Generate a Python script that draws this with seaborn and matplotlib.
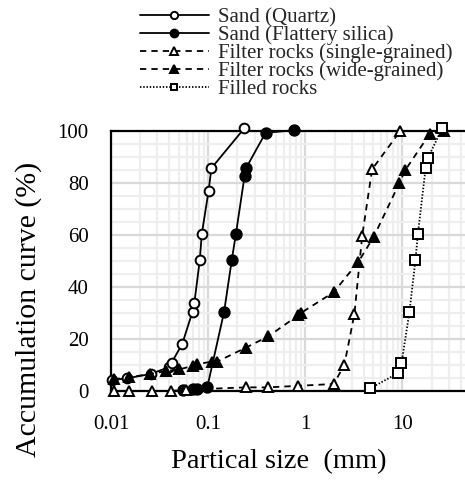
import matplotlib
matplotlib.use("Agg")
import matplotlib.pyplot as plt
import matplotlib.ticker as mticker
import seaborn as sns
import numpy as np

# Particle size (mm) and cumulative passing (%) for each material
quartz_x = [0.0103, 0.0147, 0.026, 0.040, 0.042, 0.054, 0.069, 0.072, 0.082, 0.086, 0.101, 0.108, 0.235]
quartz_y = [4.2, 4.9, 6.6, 9.3, 10.9, 18.0, 30.5, 33.7, 50.4, 60.4, 77.0, 85.7, 101.0]

flattery_x = [0.055, 0.069, 0.076, 0.098, 0.146, 0.175, 0.193, 0.237, 0.245, 0.39, 0.77]
flattery_y = [0.4, 0.7, 0.8, 1.5, 30.5, 50.4, 60.4, 82.7, 85.7, 99.3, 100.3]

single_x = [0.0107, 0.0154, 0.0263, 0.041, 0.059, 0.245, 0.416, 0.85, 1.96, 2.52, 3.2, 3.85, 4.87, 9.5]
single_y = [0.0, 0.0, 0.0, 0.0, 0.5, 1.4, 1.4, 2.0, 2.7, 10.0, 29.6, 59.7, 85.3, 100.0]

wide_x = [0.0107, 0.0153, 0.025, 0.037, 0.050, 0.069, 0.076, 0.110, 0.124, 0.245, 0.416,
          0.85, 0.90, 1.96, 3.52, 5.06, 9.3, 10.7, 19.0, 26.5]
wide_y = [4.5, 5.3, 6.5, 7.7, 8.3, 9.6, 10.3, 11.3, 11.3, 16.7, 21.0,
          29.2, 30.0, 38.0, 49.7, 59.3, 80.0, 85.0, 98.8, 100.0]

filled_x = [4.64, 8.95, 9.77, 11.8, 13.6, 14.4, 17.3, 18.2, 25.6]
filled_y = [1.0, 6.8, 10.6, 30.5, 50.4, 60.3, 85.7, 89.5, 101.0]

labels = ["Sand (Quartz)", "Sand (Flattery silica)", "Filter rocks (single-grained)",
          "Filter rocks (wide-grained)", "Filled rocks"]

y_ticks = [0, 20, 40, 60, 80, 100]
x_ticks = [0.01, 0.1, 1, 10]
x_ticklabels = ["0.01", "0.1", "1", "10"]

sns.set_theme(style="white")
plt.rcParams["font.family"] = ["Liberation Serif", "DejaVu Serif"]

fig = plt.figure(figsize=(4.65, 4.82), dpi=100)
ax = fig.add_axes([111 / 465, 91 / 482, 1 - 111 / 465, 260 / 482])

series = [
    (quartz_x, quartz_y, dict(linestyle="-", marker="o", markerfacecolor="white", markersize=7)),
    (flattery_x, flattery_y, dict(linestyle="-", marker="o", markerfacecolor="black", markersize=7.5)),
    (single_x, single_y, dict(linestyle=(0, (3.5, 2.8)), marker="^", markerfacecolor="white", markersize=7)),
    (wide_x, wide_y, dict(linestyle=(0, (3.5, 2.8)), marker="^", markerfacecolor="black", markersize=7.5)),
    (filled_x, filled_y, dict(linestyle=(0, (0.8, 1.0)), marker="s", markerfacecolor="white", markersize=6.5)),
]

for (xs, ys, style), lab in zip(series, labels):
    sns.lineplot(x=xs, y=ys, ax=ax, color="black", linewidth=1.3, sort=False,
                 estimator=None, markeredgecolor="black", markeredgewidth=1.4,
                 clip_on=False, label=lab, zorder=3, **style)

ax.set_xscale("log")
ax.set_xlim(0.01, 44)
ax.set_ylim(0, 100)
ax.set_xticks(x_ticks)
ax.set_xticklabels(x_ticklabels)
ax.xaxis.set_minor_locator(mticker.LogLocator(base=10, subs=np.arange(2, 10)))
ax.xaxis.set_minor_formatter(mticker.NullFormatter())
ax.set_yticks(y_ticks)
ax.yaxis.set_minor_locator(mticker.MultipleLocator(5))

ax.grid(which="major", color="#d9d9d9", linewidth=1.6)
ax.grid(which="minor", color="#eeeeee", linewidth=1.6)
ax.set_axisbelow(True)

for side in ["left", "top", "bottom"]:
    ax.spines[side].set_color("black")
    ax.spines[side].set_linewidth(1.6)
ax.spines["right"].set_visible(False)

ax.tick_params(axis="both", which="both", length=0, labelsize=15, colors="black")
ax.tick_params(axis="y", pad=16)
ax.tick_params(axis="x", pad=17.5)

ax.set_xlabel("Partical size  (mm)", fontsize=20.5, color="black")
ax.set_ylabel("Accumulation curve (%)", fontsize=21.5, color="black")
ax.xaxis.set_label_coords(0.473, -0.225)
ax.yaxis.set_label_coords(-0.195, 0.315)

leg = ax.legend(loc="upper left", bbox_to_anchor=(140 / 465, 1 - 8 / 482),
                bbox_transform=fig.transFigure, frameon=False, fontsize=15,
                handlelength=3.3, handletextpad=0.45, labelspacing=-0.09,
                borderpad=0, borderaxespad=0, markerscale=0.75)

fig.savefig("out.png", dpi=100)
